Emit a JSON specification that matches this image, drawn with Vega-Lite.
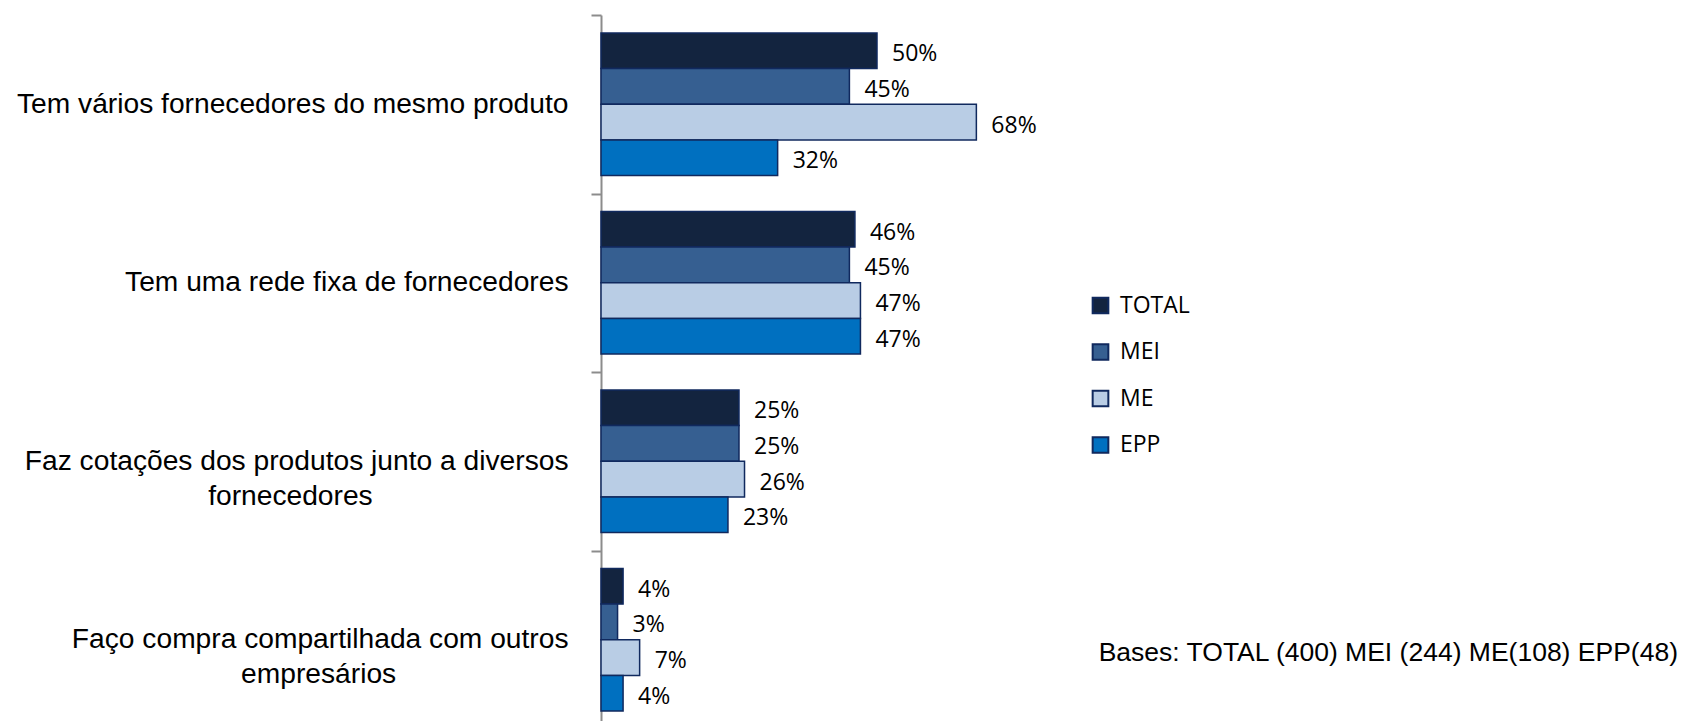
{
  "$schema": "https://vega.github.io/schema/vega-lite/v6.json",
  "width": 1080,
  "height": 706,
  "autosize": {"type": "none"},
  "padding": {"left": 601, "top": 15, "right": 0, "bottom": 0},
  "background": "white",
  "config": {"view": {"stroke": null}, "font": "Liberation Sans"},
  "datasets": {
    "bars": [
      {"cat": "Tem vários fornecedores do mesmo produto", "grp": "TOTAL", "v": 0.50},
      {"cat": "Tem vários fornecedores do mesmo produto", "grp": "MEI", "v": 0.45},
      {"cat": "Tem vários fornecedores do mesmo produto", "grp": "ME", "v": 0.68},
      {"cat": "Tem vários fornecedores do mesmo produto", "grp": "EPP", "v": 0.32},
      {"cat": "Tem uma rede fixa de fornecedores", "grp": "TOTAL", "v": 0.46},
      {"cat": "Tem uma rede fixa de fornecedores", "grp": "MEI", "v": 0.45},
      {"cat": "Tem uma rede fixa de fornecedores", "grp": "ME", "v": 0.47},
      {"cat": "Tem uma rede fixa de fornecedores", "grp": "EPP", "v": 0.47},
      {"cat": "Faz cotações dos produtos junto a diversos fornecedores", "grp": "TOTAL", "v": 0.25},
      {"cat": "Faz cotações dos produtos junto a diversos fornecedores", "grp": "MEI", "v": 0.25},
      {"cat": "Faz cotações dos produtos junto a diversos fornecedores", "grp": "ME", "v": 0.26},
      {"cat": "Faz cotações dos produtos junto a diversos fornecedores", "grp": "EPP", "v": 0.23},
      {"cat": "Faço compra compartilhada com outros empresários", "grp": "TOTAL", "v": 0.04},
      {"cat": "Faço compra compartilhada com outros empresários", "grp": "MEI", "v": 0.03},
      {"cat": "Faço compra compartilhada com outros empresários", "grp": "ME", "v": 0.07},
      {"cat": "Faço compra compartilhada com outros empresários", "grp": "EPP", "v": 0.04}
    ],
    "note": [{"t": "Bases: TOTAL (400) MEI (244) ME(108) EPP(48)"}]
  },
  "layer": [
    {
      "data": {"name": "bars"},
      "mark": {"type": "bar", "stroke": "#10295e", "strokeWidth": 1.5},
      "encoding": {
        "y": {
          "field": "cat", "type": "nominal", "sort": null,
          "scale": {"range": [0, 714], "paddingInner": 0, "paddingOuter": 0},
          "axis": {
            "title": null,
            "domainColor": "#8c8c8c", "domainWidth": 2,
            "tickColor": "#8c8c8c", "tickWidth": 2, "tickSize": 10, "tickBand": "extent",
            "labelFont": "Liberation Sans", "labelFontSize": 28.2, "labelColor": "black",
            "labelPadding": 23, "labelLimit": 700, "labelLineHeight": 35,
            "labelExpr": "datum.label == 'Faz cotações dos produtos junto a diversos fornecedores' ? ['Faz cotações dos produtos junto a diversos', 'fornecedores\u00a0\u00a0\u00a0\u00a0\u00a0\u00a0\u00a0\u00a0\u00a0\u00a0\u00a0\u00a0\u00a0\u00a0\u00a0\u00a0\u00a0\u00a0\u00a0\u00a0\u00a0\u00a0\u00a0\u00a0\u00a0\u2060'] : datum.label == 'Faço compra compartilhada com outros empresários' ? ['Faço compra compartilhada com outros', 'empresários\u00a0\u00a0\u00a0\u00a0\u00a0\u00a0\u00a0\u00a0\u00a0\u00a0\u00a0\u00a0\u00a0\u00a0\u00a0\u00a0\u00a0\u00a0\u00a0\u00a0\u00a0\u00a0\u2060'] : datum.label"
          }
        },
        "yOffset": {"field": "grp", "sort": ["TOTAL", "MEI", "ME", "EPP"], "scale": {"paddingInner": 0, "paddingOuter": 0.505}},
        "x": {"field": "v", "type": "quantitative", "scale": {"domain": [0, 1.9565], "nice": false}, "axis": null},
        "color": {
          "field": "grp", "type": "nominal", "sort": ["TOTAL", "MEI", "ME", "EPP"],
          "scale": {"domain": ["TOTAL", "MEI", "ME", "EPP"], "range": ["#13243f", "#365f91", "#b9cde5", "#0070c0"]},
          "legend": {
            "title": null, "orient": "none", "legendX": 488, "legendY": 279, "direction": "vertical",
            "symbolType": "square", "symbolSize": 246, "symbolStrokeColor": "#10295e", "symbolStrokeWidth": 2,
            "symbolOpacity": 1,
            "labelFont": "Open Sans", "labelFontSize": 23, "labelColor": "black", "labelOffset": 8,
            "rowPadding": 21.5, "padding": 0
          }
        }
      }
    },
    {
      "data": {"name": "bars"},
      "mark": {"type": "text", "align": "left", "baseline": "middle", "dx": 15, "dy": 3.5, "font": "Open Sans", "fontSize": 23, "color": "black"},
      "encoding": {
        "y": {"field": "cat", "type": "nominal", "sort": null},
        "yOffset": {"field": "grp", "sort": ["TOTAL", "MEI", "ME", "EPP"]},
        "x": {"field": "v", "type": "quantitative"},
        "text": {"field": "v", "format": ".0%"}
      }
    },
    {
      "data": {"name": "note"},
      "mark": {"type": "text", "align": "right", "baseline": "middle", "dy": 13, "font": "Liberation Sans", "fontSize": 26.5, "color": "black"},
      "encoding": {
        "x": {"datum": 1.951, "type": "quantitative"},
        "y": {"datum": "Faço compra compartilhada com outros empresários", "type": "nominal"},
        "text": {"field": "t"}
      }
    }
  ]
}
